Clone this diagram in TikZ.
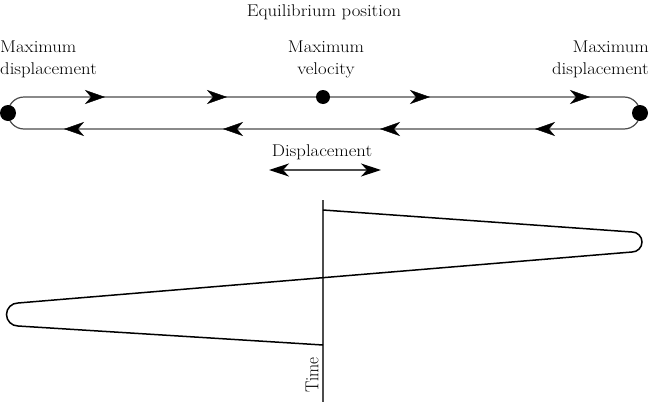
\documentclass[tikz,border=0pt]{standalone}
\usetikzlibrary{arrows.meta,decorations.markings}
\begin{document}
\begin{tikzpicture}[x=1pt,y=-1pt,
  lbl/.style={font=\fontsize{17}{22}\selectfont, align=center, inner sep=0pt, xscale=1.1},
  dot/.style={circle, fill=black, inner sep=0pt, minimum size=#1},
  loopline/.style={draw=black!70, line width=1.2pt},
  saw/.style={draw=black, line width=1.5pt},
  marktip/.tip={Stealth[length=20pt,width=14pt,inset=6pt]}
]
\useasboundingbox (0,0) rectangle (649,402);
% labels
\node[lbl] (eq) at (324,12) {Equilibrium position};
\node[lbl, align=left, anchor=west] (mdl) at (0,59) {Maximum\\displacement};
\node[lbl] (mv) at (326,59) {Maximum\\velocity};
\node[lbl, align=right, anchor=east] (mdr) at (649,59) {Maximum\\displacement};
% loop
\coordinate (tl) at (24,97);
\coordinate (tr) at (624,97);
\coordinate (br) at (624,129);
\coordinate (bl) at (24,129);
\draw[loopline] (tl) -- (tr) arc[start angle=-90,end angle=90,radius=16] -- (bl) arc[start angle=90,end angle=270,radius=16];
\path[decoration={markings,
  mark=at position 81pt with {\arrow[black]{marktip}},
  mark=at position 203pt with {\arrow[black]{marktip}},
  mark=at position 406pt with {\arrow[black]{marktip}},
  mark=at position 566pt with {\arrow[black]{marktip}}}, decorate] (tl) -- (tr);
\path[decoration={markings,
  mark=at position 89pt with {\arrow[black]{marktip}},
  mark=at position 244pt with {\arrow[black]{marktip}},
  mark=at position 401pt with {\arrow[black]{marktip}},
  mark=at position 560pt with {\arrow[black]{marktip}}}, decorate] (br) -- (bl);
\node[dot=16pt] (dl) at (8,113) {};
\node[dot=16pt] (dr) at (640,113) {};
\node[dot=14pt] (dm) at (323,97) {};
% displacement
\node[lbl] (disp) at (322,152) {Displacement};
\coordinate (da) at (269,170);
\coordinate (db) at (381,170);
\draw[draw=black!70, line width=1.2pt, {Stealth[length=20pt,width=13pt,inset=6pt,black]}-{Stealth[length=20pt,width=13pt,inset=6pt,black]}] (da) -- (db);
% time axis
\coordinate (t0) at (323,200);
\coordinate (t1) at (323,402);
\draw[draw=black!70, line width=1.2pt] (t0) -- (t1);
\node[lbl, rotate=90] (time) at (312,375) {Time};
% sawtooth
\coordinate (s0) at (323,210);
\coordinate (s1) at (632,232);
\coordinate (s2) at (18,303);
\coordinate (s3) at (323,345);
\draw[saw] (s0) -- (s1) arc[start angle=-90,end angle=90,radius=10] -- (s2) arc[start angle=270,end angle=90,radius=11.5] -- (s3);
\end{tikzpicture}
\end{document}
